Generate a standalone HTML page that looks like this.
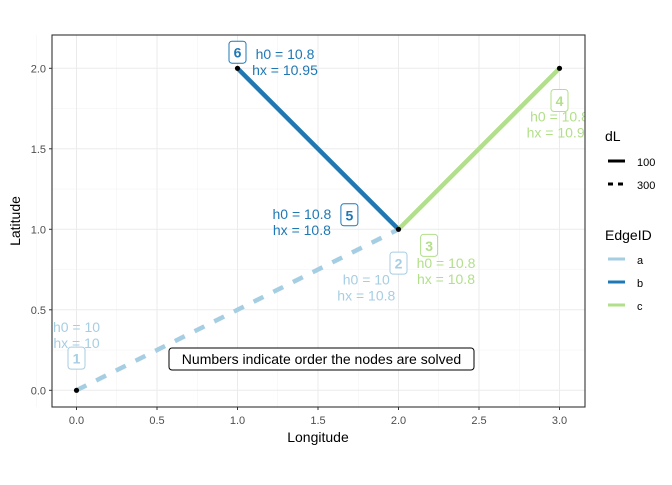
<!DOCTYPE html>
<html><head><meta charset="utf-8"><style>
body{margin:0;background:#fff}
svg{font-family:"Liberation Sans",Arial,sans-serif}
</style></head><body>
<svg width="672" height="480" viewBox="0 0 672 480">
<defs><clipPath id="pc"><rect x="52" y="35" width="533" height="372"/></clipPath></defs>
<rect x="52" y="35" width="533" height="372" fill="#fff"/>
<g id="grid"></g>
<g id="marks" clip-path="url(#pc)"></g>
<rect x="52" y="35" width="533" height="372" fill="none" stroke="#333" stroke-width="1.1"/>
<g id="axes"></g>
<text x="318" y="442" font-size="14" text-anchor="middle">Longitude</text>
<text x="0" y="0" font-size="14" text-anchor="middle" transform="translate(20,221) rotate(-90)">Latitude</text>
<g>
<text x="605" y="141" font-size="14">dL</text>
<line x1="608" y1="161" x2="625" y2="161" stroke="#000" stroke-width="3"/>
<text x="637" y="166" font-size="11">100</text>
<line x1="608" y1="184" x2="625" y2="184" stroke="#000" stroke-width="3" stroke-dasharray="5,5"/>
<text x="637" y="189" font-size="11">300</text>
</g>
<g>
<text x="605" y="240" font-size="14">EdgeID</text>
<line x1="608" y1="259" x2="625" y2="259" stroke="#a6cee3" stroke-width="3"/>
<text x="637" y="264" font-size="11">a</text>
<line x1="608" y1="282" x2="625" y2="282" stroke="#1f78b4" stroke-width="3"/>
<text x="637" y="287" font-size="11">b</text>
<line x1="608" y1="305" x2="625" y2="305" stroke="#b2df8a" stroke-width="3"/>
<text x="637" y="310" font-size="11">c</text>
</g>
<script>
const xTicks=[0,0.5,1,1.5,2,2.5,3];
const yTicks=[0,0.5,1,1.5,2];
const edgeIds=['a','b','c'];
const edgeFrom=[[0,0],[1,2],[2,1]];
const edgeTo=[[2,1],[2,1],[3,2]];
const edgeDl=[300,100,100];
const edgeColors=['#a6cee3','#1f78b4','#b2df8a'];
const nodeX=[0,2,1,3];
const nodeY=[0,1,2,2];
const orderNum=['1','2','3','4','5','6'];
const orderX=[0,2,2.19,3,1.695,1];
const orderY=[0.2,0.79,0.9,1.8,1.09,2.1];
const orderEdge=[0,0,2,2,1,1];
const lblX=[0,1.8,2.295,3.0,1.40,1.295];
const lblY=[0.343,0.64,0.74,1.65,1.045,2.04];
const lblH0=['10','10','10.8','10.8','10.8','10.8'];
const lblHx=['10','10.8','10.8','10.95','10.8','10.95'];
const X=v=>76.5+v*161, Y=v=>390.3-v*161;
const NS='http://www.w3.org/2000/svg';
function mk(t,a,p){const e=document.createElementNS(NS,t);for(const k in a)e.setAttribute(k,a[k]);p.appendChild(e);return e;}
const grid=document.getElementById('grid'),axes=document.getElementById('axes'),marks=document.getElementById('marks');
[-0.25,0.25,0.75,1.25,1.75,2.25,2.75].forEach(v=>{mk('line',{x1:X(v),x2:X(v),y1:35,y2:407,stroke:'#f2f2f2','stroke-width':0.5},grid);});
[0.25,0.75,1.25,1.75].forEach(v=>{mk('line',{x1:52,x2:585,y1:Y(v),y2:Y(v),stroke:'#f2f2f2','stroke-width':0.5},grid);});
xTicks.forEach(v=>{const l=mk('line',{x1:X(v),x2:X(v),y1:35,y2:407,stroke:'#ebebeb','stroke-width':1},grid);

mk('line',{x1:X(v),x2:X(v),y1:407,y2:410,stroke:'#333'},axes);
const t=mk('text',{x:X(v),y:424,'font-size':11,fill:'#4d4d4d','text-anchor':'middle'},axes);t.textContent=v.toFixed(1);
});
yTicks.forEach(v=>{const l=mk('line',{x1:52,x2:585,y1:Y(v),y2:Y(v),stroke:'#ebebeb','stroke-width':1},grid);

mk('line',{x1:49,x2:52,y1:Y(v),y2:Y(v),stroke:'#333'},axes);
const t=mk('text',{x:46,y:Y(v)+4,'font-size':11,fill:'#4d4d4d','text-anchor':'end'},axes);t.textContent=v.toFixed(1);
});
edgeIds.forEach((id,i)=>{const a={x1:X(edgeFrom[i][0]),y1:Y(edgeFrom[i][1]),x2:X(edgeTo[i][0]),y2:Y(edgeTo[i][1]),stroke:edgeColors[i],'stroke-width':4.5};
if(edgeDl[i]===300)a['stroke-dasharray']='11,11';
const l=mk('line',a,marks);});
nodeX.forEach((v,i)=>{const c=mk('circle',{cx:X(v),cy:Y(nodeY[i]),r:2.6,fill:'#000'},marks);
});
orderNum.forEach((n,i)=>{const col=edgeColors[orderEdge[i]];const g=mk('g',{},marks);

const cx=X(orderX[i]),cy=Y(orderY[i]);
mk('rect',{x:cx-8.5,y:cy-11,width:17,height:22,rx:3,fill:'#fff',stroke:col,'stroke-width':1},g);
const t=mk('text',{x:cx,y:cy+5.5,'font-size':14,'font-weight':'bold',fill:col,'text-anchor':'middle'},g);t.textContent=n;
const h=mk('g',{},marks);
const lx=X(lblX[i]),ly=Y(lblY[i]);
const t1=mk('text',{x:lx,y:ly-3,'font-size':14,fill:col,'text-anchor':'middle'},h);t1.textContent='h0 = '+lblH0[i];
const t2=mk('text',{x:lx,y:ly+13,'font-size':14,fill:col,'text-anchor':'middle'},h);t2.textContent='hx = '+lblHx[i];});
</script>
<g>
<rect x="169" y="348" width="305" height="22" rx="3" fill="#fff" stroke="#000" stroke-width="1"/>
<text x="321.5" y="364" font-size="14" text-anchor="middle">Numbers indicate order the nodes are solved</text>
</g>
</svg>
</body></html>
